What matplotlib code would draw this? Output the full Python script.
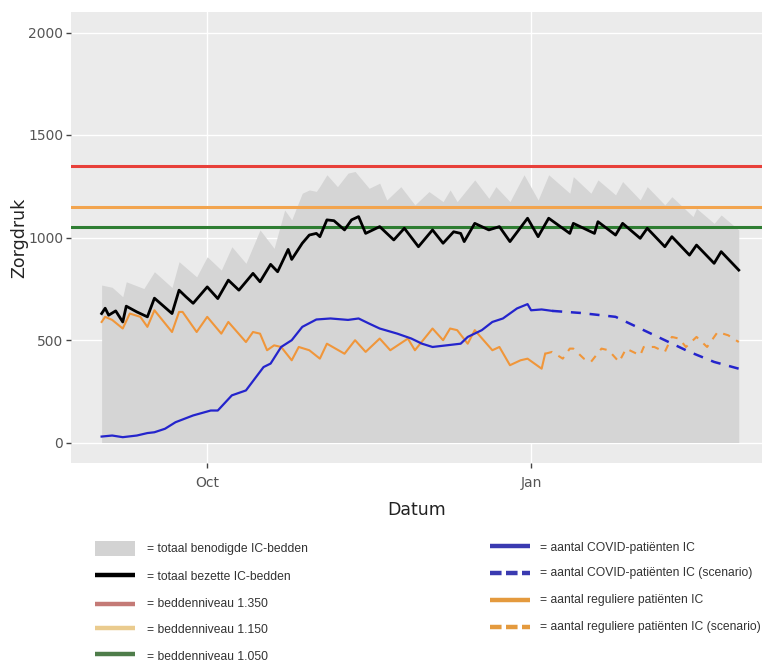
import numpy as np
import matplotlib
matplotlib.use('Agg')
import matplotlib.pyplot as plt
import matplotlib.dates as mdates
from matplotlib.lines import Line2D
from matplotlib.patches import Rectangle

START = '2020-09-01'

# (day offset from 1 Sep 2020, value)
benodigde = [(0,768),(3,757),(6,711),(7,784),(12,751),(15,833),(20,756),(22,882),(27,808),(30,906),
             (34,841),(37,955),(41,874),(45,1037),(49,947),(52,1134),(54,1086),(57,1216),(59,1232),
             (61,1225),(62,1250),(64,1306),(67,1248),(70,1314),(72,1322),(76,1240),(79,1265),(81,1183),
             (85,1248),(89,1159),(93,1224),(97,1175),(99,1232),(101,1175),(106,1281),(110,1191),(112,1248),
             (116,1175),(120,1306),(124,1183),(127,1306),(133,1216),(134,1297),(139,1216),(141,1281),
             (146,1208),(148,1273),(153,1183),(155,1248),(160,1159),(162,1199),(168,1102),(169,1142),
             (174,1069),(176,1110),(181,1037)]

bezette = [(0,629),(1,655),(2,621),(4,642),(6,588),(7,665),(10,637),(13,613),(15,704),(20,629),
           (22,743),(24,710),(26,679),(30,759),(33,702),(36,792),(39,743),(43,825),(45,784),(48,869),
           (50,833),(53,942),(54,893),(57,972),(59,1012),(61,1020),(62,1004),(64,1086),(66,1082),
           (69,1037),(71,1086),(73,1102),(75,1020),(79,1053),(83,988),(86,1045),(90,955),(94,1037),
           (97,972),(100,1028),(102,1020),(103,980),(106,1069),(110,1037),(113,1053),(116,980),
           (121,1094),(124,1004),(127,1094),(133,1020),(134,1069),(140,1020),(141,1077),(146,1012),
           (148,1069),(153,996),(155,1045),(160,955),(162,1004),(167,914),(169,963),(174,874),
           (176,931),(181,841)]

covid = [(0,29),(3,34),(6,26),(10,34),(13,46),(15,50),(18,67),(21,99),(26,132),(31,156),(33,156),
         (37,230),(41,254),(46,368),(48,385),(51,466),(54,499),(57,564),(61,600),(65,605),(70,598),
         (73,605),(76,580),(79,556),(84,531),(88,507),(91,482),(94,466),(98,474),(102,482),(104,515),
         (108,548),(111,588),(114,605),(118,654),(121,675),(122,645),(125,649),(128,642)]

covid_scen = [(128,642),(136,632),(146,613),(153,556),(160,499),(167,442),(174,393),(181,360)]

regulier = [(0,588),(1,613),(3,598),(6,556),(8,629),(11,613),(13,564),(15,645),(20,539),(22,637),
            (23,637),(27,539),(30,613),(34,531),(36,588),(41,490),(43,539),(45,531),(47,450),(49,474),
            (51,466),(54,401),(56,466),(59,450),(62,409),(64,482),(69,433),(72,499),(75,442),(79,507),
            (82,450),(87,507),(89,450),(94,556),(97,499),(99,556),(101,548),(104,482),(106,548),
            (111,450),(113,466),(116,377),(119,401),(121,409),(125,360),(126,433)]

regulier_scen = [(126,433),(128,442),(131,409),(133,458),(134,458),(137,409),(139,393),(142,458),
                 (144,450),(147,393),(149,458),(153,425),(154,466),(157,466),(160,442),(162,515),
                 (164,507),(166,466),(169,515),(172,466),(175,539),(178,523),(181,490)]

bed_levels = [1350, 1150, 1050]
bed_colors = ['#E8403A', '#F2A44E', '#2E7D32']

y_ticks = [0, 500, 1000, 1500, 2000]
x_tick_dates = ['2020-10-01', '2021-01-01']
x_tick_labels = ['Oct', 'Jan']


def to_xy(pairs):
    d = np.array([p[0] for p in pairs], dtype=int)
    v = np.array([p[1] for p in pairs], dtype=float)
    return np.datetime64(START) + d.astype('timedelta64[D]'), v


W, H = 762, 663
fig = plt.figure(figsize=(W / 100, H / 100), dpi=100)
ax = fig.add_axes([71 / W, 1 - 463 / H, (762 - 71) / W, (463 - 12) / H])
ax.set_facecolor('#EBEBEB')
for s in ax.spines.values():
    s.set_visible(False)
ax.grid(True, color='white', lw=1.0, zorder=0)
ax.set_axisbelow(True)

x, v = to_xy(benodigde)
ax.fill_between(x, 0, v, color='#D5D5D5', lw=0, zorder=1)

for lvl, c in zip(bed_levels, bed_colors):
    ax.axhline(lvl, color=c, lw=2.2, zorder=2)

x, v = to_xy(bezette)
ax.plot(x, v, color='black', lw=2.0, zorder=4)
x, v = to_xy(regulier)
ax.plot(x, v, color='#F0963A', lw=1.5, zorder=3)
x, v = to_xy(regulier_scen)
ax.plot(x, v, color='#F0963A', lw=1.5, dashes=(3.5, 3.5), zorder=3)
x, v = to_xy(covid)
ax.plot(x, v, color='#2424CC', lw=1.6, zorder=3)
x, v = to_xy(covid_scen)
ax.plot(x, v, color='#2424CC', lw=1.8, dashes=(4, 3.5), zorder=3)

x0 = mdates.date2num(np.datetime64(START))
ax.set_xlim(x0 - 8.7, x0 + 187.6)
ax.set_ylim(-100, 2100)
ax.set_yticks(y_ticks)
ax.set_xticks([mdates.date2num(np.datetime64(d)) for d in x_tick_dates])
ax.set_xticklabels(x_tick_labels)
ax.tick_params(axis='both', length=3.5, width=1, color='#444444', labelcolor='#555555',
               labelsize=10, pad=2)
ax.tick_params(axis='x', pad=6)
ax.set_xlabel('Datum', fontsize=12.5, color='#222222', labelpad=8)
ax.set_ylabel('Zorgdruk', fontsize=12.5, color='#222222', labelpad=0)


def P(px, py):
    return (px / W, 1 - py / H)


LFONT = dict(fontsize=8.7, family='Liberation Sans', color='#333333', va='center', ha='left')

# left legend column
fig.add_artist(Rectangle(P(95, 556), 40 / W, 15 / H, transform=fig.transFigure,
                         facecolor='#D3D3D3', edgecolor='none'))
fig.text(*P(147, 549), '= totaal benodigde IC-bedden', **LFONT)
left_rows = [('black', 575, 577, '= totaal bezette IC-bedden'),
             ('#C47A76', 604, 604, '= beddenniveau 1.350'),
             ('#EACB8E', 628, 630, '= beddenniveau 1.150'),
             ('#4E7D4A', 654, 657, '= beddenniveau 1.050')]
for c, yl, yt, lab in left_rows:
    fig.add_artist(Line2D([95 / W, 135 / W], [1 - yl / H] * 2, transform=fig.transFigure,
                          color=c, lw=3.2, solid_capstyle='butt'))
    fig.text(*P(147, yt), lab, **LFONT)

right_rows = [('#3A3AB0', None, 546, 548, '= aantal COVID-patiënten IC'),
              ('#3A3AB0', (2.6, 1.0), 573, 573, '= aantal COVID-patiënten IC (scenario)'),
              ('#E49A3E', None, 600, 600, '= aantal reguliere patiënten IC'),
              ('#E49A3E', (2.6, 1.0), 627, 627, '= aantal reguliere patiënten IC (scenario)')]
for c, dash, yl, yt, lab in right_rows:
    kw = dict(transform=fig.transFigure, color=c, lw=3.2, solid_capstyle='butt',
              dash_capstyle='butt')
    if dash:
        kw['dashes'] = dash
    fig.add_artist(Line2D([490 / W, 530 / W], [1 - yl / H] * 2, **kw))
    fig.text(*P(540, yt), lab, **LFONT)

fig.savefig('out.png', dpi=100, facecolor='white')
